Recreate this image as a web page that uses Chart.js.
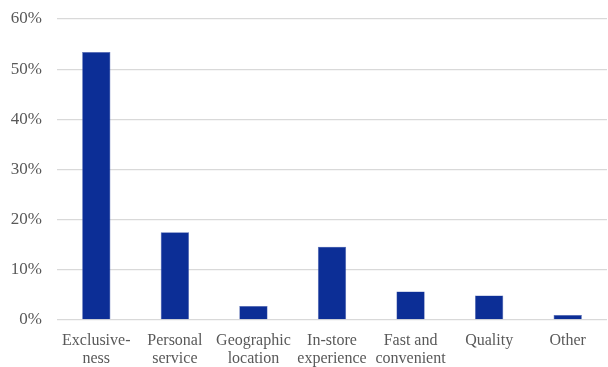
<!DOCTYPE html>
<html>
<head>
<meta charset="utf-8">
<script src="https://cdn.jsdelivr.net/npm/chart.js@4"></script>
<style>
  html, body { margin: 0; padding: 0; background: #ffffff; }
  #wrap { width: 608px; height: 367px; position: relative; }
</style>
</head>
<body>
<div id="wrap"><canvas id="reasonChart"></canvas></div>
<script>
// --- data ---
const categories = [
  ["Exclusive-", "ness"],
  ["Personal", "service"],
  ["Geographic", "location"],
  ["In-store", "experience"],
  ["Fast and", "convenient"],
  ["Quality"],
  ["Other"]
];
const shares = [0.534, 0.175, 0.028, 0.146, 0.057, 0.049, 0.010];
const yTicks = [0, 0.1, 0.2, 0.3, 0.4, 0.5, 0.6];

const textColor = "#595959";
const font = { family: "'Liberation Serif', 'Times New Roman', serif", size: 16, lineHeight: 1.1 };

new Chart(document.getElementById("reasonChart"), {
  type: "bar",
  data: {
    labels: categories,
    datasets: [{
      data: shares,
      backgroundColor: "#0c2e96",
      borderColor: "#4d63b0",
      borderWidth: 0.6,
      barPercentage: 0.36,
      categoryPercentage: 1
    }]
  },
  options: {
    responsive: true,
    maintainAspectRatio: false,
    animation: false,
    layout: { autoPadding: false, padding: { left: 10, right: 1, top: 19, bottom: 0 } },
    plugins: {
      legend: { display: false },
      tooltip: { enabled: false }
    },
    scales: {
      x: {
        afterFit: (axis) => { axis.height = 47; },
        grid: { display: false, drawTicks: false },
        border: { display: false },
        ticks: { color: textColor, font: font, padding: 12, maxRotation: 0, autoSkip: false }
      },
      y: {
        min: 0,
        max: 0.6,
        afterBuildTicks: (axis) => { axis.ticks = yTicks.map((v) => ({ value: v })); },
        afterFit: (axis) => { axis.width = 47; axis.paddingTop = 0; axis.paddingBottom = 0; },
        grid: { color: "#d9d9d9", lineWidth: 1.3, drawTicks: false },
        border: { display: false },
        ticks: {
          color: textColor,
          font: { family: font.family, size: 17 },
          padding: 15,
          callback: (v) => Math.round(v * 100) + "%"
        }
      }
    }
  }
});
</script>
</body>
</html>
